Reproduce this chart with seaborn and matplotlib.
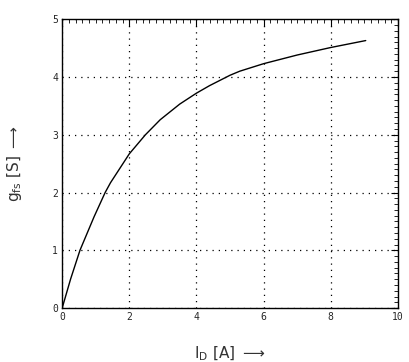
import seaborn as sns
import matplotlib.pyplot as plt
import pandas as pd
from matplotlib.ticker import MultipleLocator

# values
i_d = [0, 0.25, 0.53, 0.95, 1.28, 1.44, 2.0, 2.48, 2.92, 3.5, 4.0, 4.39,
       5.0, 5.29, 6.0, 7.0, 8.0, 9.04]
g_fs = [0, 0.5, 1.0, 1.58, 2.0, 2.17, 2.67, 3.0, 3.26, 3.53, 3.72, 3.85,
        4.03, 4.1, 4.23, 4.38, 4.51, 4.63]

df = pd.DataFrame({"I_D": i_d, "g_fs": g_fs})

sns.set_style("white")
fig = plt.figure(figsize=(4.09, 3.62), dpi=100)
ax = fig.add_axes([0.152, 0.149, 0.821, 0.798])

sns.lineplot(data=df, x="I_D", y="g_fs", color="black", linewidth=1.0, ax=ax)

ax.set_xlim(0, 10)
ax.set_ylim(0, 5)
ax.xaxis.set_major_locator(MultipleLocator(2))
ax.xaxis.set_minor_locator(MultipleLocator(0.2))
ax.yaxis.set_major_locator(MultipleLocator(1))
ax.yaxis.set_minor_locator(MultipleLocator(0.1))
ax.tick_params(which="both", direction="in", top=True, right=True, color="black")
ax.tick_params(which="major", length=5, width=0.8, labelsize=7, pad=3)
ax.tick_params(which="minor", length=3, width=0.6)
for lab in ax.get_xticklabels() + ax.get_yticklabels():
    lab.set_fontfamily("DejaVu Sans Mono")
ax.grid(True, which="major", linestyle=(0, (1, 4)), color="black", linewidth=0.9)
for s in ax.spines.values():
    s.set_color("black")
    s.set_linewidth(1.0)

ax.set_xlabel(r"I$_\mathrm{D}$ [A] $\longrightarrow$", fontsize=11, color="#333333", labelpad=16)
ax.set_ylabel(r"g$_\mathrm{fs}$ [S] $\longrightarrow$", fontsize=11, color="#333333", labelpad=20)

fig.savefig("out.png", dpi=100)
